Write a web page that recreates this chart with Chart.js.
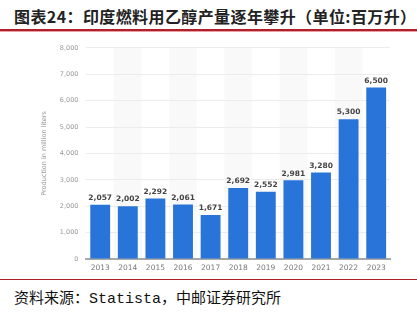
<!DOCTYPE html>
<html>
<head>
<meta charset="utf-8">
<script src="https://cdn.jsdelivr.net/npm/chart.js@4/dist/chart.umd.min.js"></script>
<style>
  body { margin: 0; width: 417px; height: 327px; background: #fff; position: relative; overflow: hidden; font-family: "Noto Sans CJK SC", sans-serif; }
  #title { position: absolute; left: 14px; top: 4px; font-size: 16px; font-weight: bold; color: #222; letter-spacing: 0.4px; white-space: nowrap; }
  #line1 { position: absolute; left: 0; top: 29px; width: 417px; height: 2px; background: #b0202a; }
  #line2 { position: absolute; left: 0; top: 31px; width: 417px; height: 1px; background: #e8a0a4; }
  #wrap { position: absolute; left: 0; top: 36px; width: 417px; height: 242px; }
  #line3 { position: absolute; left: 0; top: 279px; width: 417px; height: 1px; background: #b0202a; }
  #source { position: absolute; left: 14px; top: 286px; font-size: 15px; color: #111; white-space: nowrap; font-family: "Liberation Mono", "Noto Sans CJK SC", monospace; }
</style>
</head>
<body>
<div id="title">图表24：印度燃料用乙醇产量逐年攀升（单位:百万升）</div>
<div id="line1"></div>
<div id="line2"></div>
<div id="wrap"><canvas id="chart"></canvas></div>
<div id="line3"></div>
<div id="source">资料来源：Statista，中邮证券研究所</div>
<script>
const years = ['2013', '2014', '2015', '2016', '2017', '2018', '2019', '2020', '2021', '2022', '2023'];
const production = [2057, 2002, 2292, 2061, 1671, 2692, 2552, 2981, 3280, 5300, 6500];
const yTicks = [0, 1000, 2000, 3000, 4000, 5000, 6000, 7000, 8000];

// shade every other column, statista style
const bandPlugin = {
  id: 'bands',
  beforeDraw(chart) {
    const { ctx, chartArea, scales } = chart;
    const x = scales.x;
    const step = x.getPixelForValue(1) - x.getPixelForValue(0);
    ctx.save();
    ctx.fillStyle = '#f9f9f9';
    years.forEach((y, i) => {
      if (i % 2 === 1) {
        const c = x.getPixelForValue(i);
        ctx.fillRect(c - step / 2, chartArea.top, step, chartArea.bottom - chartArea.top);
      }
    });
    ctx.restore();
  }
};

// value labels on top of bars
const labelPlugin = {
  id: 'valueLabels',
  afterDatasetsDraw(chart) {
    const { ctx } = chart;
    const meta = chart.getDatasetMeta(0);
    ctx.save();
    ctx.font = 'bold 7.5px "DejaVu Sans", sans-serif';
    ctx.fillStyle = '#444';
    ctx.textAlign = 'center';
    ctx.textBaseline = 'bottom';
    meta.data.forEach((bar, i) => {
      ctx.fillText(production[i].toLocaleString('en-US'), bar.x, bar.y - 3);
    });
    ctx.restore();
  }
};

new Chart(document.getElementById('chart'), {
  type: 'bar',
  data: {
    labels: years,
    datasets: [{
      data: production,
      backgroundColor: '#2874d8',
      categoryPercentage: 0.72,
      barPercentage: 1
    }]
  },
  options: {
    responsive: true,
    maintainAspectRatio: false,
    animation: false,
    layout: { padding: { left: 36, right: 27, top: 3, bottom: 0 } },
    plugins: { legend: { display: false }, tooltip: { enabled: false } },
    scales: {
      x: {
        grid: { display: false, drawTicks: false },
        border: { color: '#a8a8a8', width: 2 },
        ticks: { color: '#777', font: { size: 7.5, family: '"DejaVu Sans", sans-serif' }, padding: 5 }
      },
      y: {
        min: 0,
        max: 8000,
        afterBuildTicks(axis) { axis.ticks = yTicks.map(v => ({ value: v })); },
        grid: { color: '#ececec', drawTicks: false },
        border: { display: false },
        ticks: {
          color: '#999',
          font: { size: 6.5, family: '"DejaVu Sans", sans-serif' },
          padding: 8,
          callback: v => v.toLocaleString('en-US')
        },
        title: {
          display: true,
          text: 'Production in million liters',
          color: '#999',
          font: { size: 6.5, family: '"DejaVu Sans", sans-serif' },
          padding: { bottom: 4 }
        }
      }
    }
  },
  plugins: [bandPlugin, labelPlugin]
});
</script>
</body>
</html>
